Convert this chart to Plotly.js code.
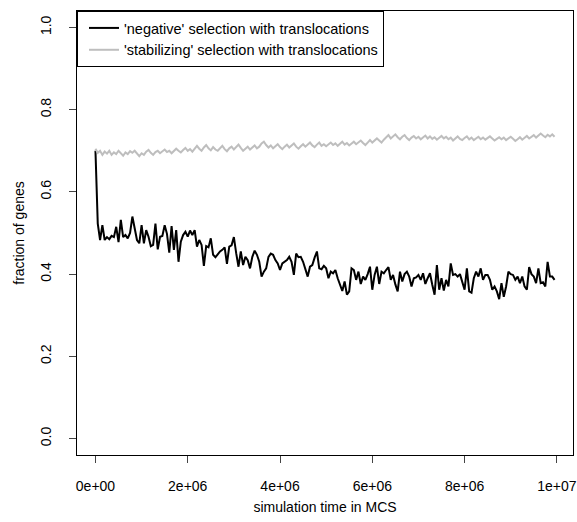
<!DOCTYPE html>
<html>
<head>
<meta charset="utf-8">
<script src="https://cdn.plot.ly/plotly-3.0.1.min.js"></script>
<style>html,body{margin:0;padding:0;background:#fff;}#chart{width:577px;height:522px;}</style>
</head>
<body>
<div id="chart"></div>
<script>
// simulation time: first sample and sampling interval (MCS)
const timeStart = 0;
const timeStep = 50000;

const seriesNames = ["'negative' selection with translocations", "'stabilizing' selection with translocations"];

const negativeFraction = [
0.70,0.523,0.483,0.519,0.483,0.49,0.485,0.493,0.49,0.515,
0.478,0.532,0.49,0.495,0.487,0.50,0.540,0.515,0.483,0.475,
0.519,0.475,0.507,0.491,0.468,0.471,0.523,0.46,0.491,0.493,
0.519,0.498,0.452,0.517,0.459,0.507,0.43,0.479,0.495,0.503,
0.491,0.506,0.495,0.507,0.467,0.483,0.471,0.42,0.468,0.465,
0.487,0.447,0.441,0.448,0.455,0.459,0.465,0.425,0.467,0.47,
0.49,0.451,0.418,0.455,0.422,0.442,0.434,0.414,0.442,0.457,
0.447,0.43,0.394,0.406,0.414,0.442,0.45,0.447,0.434,0.426,
0.41,0.426,0.43,0.434,0.442,0.43,0.398,0.45,0.441,0.442,
0.43,0.41,0.394,0.418,0.422,0.44,0.455,0.414,0.412,0.42,
0.414,0.39,0.406,0.402,0.41,0.39,0.374,0.359,0.382,0.35,
0.358,0.414,0.41,0.386,0.406,0.376,0.394,0.386,0.40,0.418,
0.362,0.398,0.418,0.376,0.406,0.402,0.41,0.417,0.386,0.398,
0.375,0.358,0.406,0.382,0.40,0.406,0.394,0.37,0.39,0.392,
0.398,0.386,0.402,0.376,0.39,0.402,0.374,0.35,0.422,0.362,
0.39,0.36,0.386,0.37,0.426,0.398,0.40,0.394,0.40,0.378,
0.362,0.414,0.358,0.355,0.39,0.406,0.394,0.414,0.386,0.398,
0.398,0.386,0.362,0.37,0.358,0.339,0.378,0.345,0.37,0.406,
0.40,0.398,0.386,0.394,0.378,0.394,0.37,0.362,0.417,0.40,
0.394,0.378,0.414,0.378,0.38,0.37,0.43,0.394,0.394,0.386
];

const stabilizingFraction = [
0.705,0.695,0.70,0.69,0.698,0.693,0.70,0.69,0.696,0.692,
0.70,0.694,0.688,0.696,0.692,0.699,0.695,0.70,0.693,0.687,
0.694,0.69,0.698,0.702,0.695,0.69,0.697,0.70,0.694,0.699,
0.703,0.697,0.70,0.694,0.699,0.705,0.70,0.696,0.702,0.707,
0.70,0.704,0.698,0.706,0.712,0.705,0.70,0.708,0.714,0.706,
0.701,0.709,0.703,0.70,0.707,0.712,0.704,0.699,0.706,0.71,
0.703,0.708,0.715,0.707,0.70,0.705,0.71,0.703,0.708,0.713,
0.706,0.71,0.718,0.722,0.714,0.708,0.713,0.706,0.711,0.716,
0.709,0.704,0.71,0.715,0.708,0.712,0.718,0.71,0.705,0.711,
0.716,0.71,0.714,0.72,0.713,0.709,0.715,0.72,0.712,0.716,
0.711,0.715,0.72,0.714,0.718,0.712,0.717,0.722,0.715,0.719,
0.713,0.718,0.722,0.716,0.72,0.725,0.719,0.714,0.72,0.726,
0.72,0.724,0.73,0.725,0.72,0.727,0.732,0.738,0.73,0.735,
0.74,0.733,0.728,0.734,0.738,0.731,0.726,0.732,0.736,0.73,
0.734,0.728,0.733,0.737,0.73,0.735,0.729,0.733,0.727,0.732,
0.736,0.73,0.734,0.728,0.732,0.725,0.73,0.735,0.729,0.726,
0.731,0.735,0.728,0.732,0.726,0.73,0.734,0.728,0.732,0.727,
0.731,0.735,0.73,0.725,0.729,0.733,0.728,0.732,0.726,0.73,
0.734,0.729,0.724,0.728,0.733,0.727,0.731,0.736,0.73,0.734,
0.738,0.732,0.736,0.742,0.737,0.733,0.739,0.735,0.74,0.734
];

const xTickVals = [0, 2e6, 4e6, 6e6, 8e6, 1e7];
const xTickText = ["0e+00", "2e+06", "4e+06", "6e+06", "8e+06", "1e+07"];
const yTickVals = [0, 0.2, 0.4, 0.6, 0.8, 1.0];
const yTickText = ["0.0", "0.2", "0.4", "0.6", "0.8", "1.0"];

const FONT = "Liberation Sans, Arial, Helvetica, sans-serif";
const FS = 14;

const traces = [
  {type: 'scatter', mode: 'lines', name: seriesNames[0], x0: timeStart, dx: timeStep, y: negativeFraction,
   line: {color: '#000000', width: 2}},
  {type: 'scatter', mode: 'lines', name: seriesNames[1], x0: timeStart, dx: timeStep, y: stabilizingFraction,
   line: {color: '#bebebe', width: 2}}
];

const layout = {
  width: 577, height: 522,
  margin: {l: 77, r: 4, t: 11, b: 67, pad: 0},
  paper_bgcolor: '#ffffff', plot_bgcolor: '#ffffff',
  font: {family: FONT, size: FS, color: '#000'},
  showlegend: true,
  legend: {x: 0, y: 1, xanchor: 'left', yanchor: 'top', bgcolor: '#ffffff',
           bordercolor: '#000', borderwidth: 1, font: {family: FONT, size: 14.5, color: '#000'},
           indentation: 6, tracegroupgap: 0},
  xaxis: {range: [-4e5, 1.035e7], tickvals: xTickVals, ticktext: xTickText,
          ticks: 'outside', ticklen: 7, tickcolor: '#444', tickwidth: 1,
          showline: true, mirror: true, linecolor: '#000', linewidth: 1,
          showgrid: false, zeroline: false, ticklabelstandoff: 11,
          tickfont: {family: FONT, size: FS, color: '#000'},
          title: {text: 'simulation time in MCS', font: {family: FONT, size: FS, color: '#000'}, standoff: 9}},
  yaxis: {range: [-0.04, 1.04], tickvals: yTickVals, ticktext: yTickText, tickangle: -90,
          ticks: 'outside', ticklen: 7, tickcolor: '#444', tickwidth: 1,
          showline: true, mirror: true, linecolor: '#000', linewidth: 1,
          showgrid: false, zeroline: false, ticklabelstandoff: 12,
          tickfont: {family: FONT, size: FS, color: '#000'},
          title: {text: 'fraction of genes', font: {family: FONT, size: FS, color: '#000'}, standoff: 10}}
};

Plotly.newPlot('chart', traces, layout, {displayModeBar: false, staticPlot: true});
</script>
</body>
</html>
